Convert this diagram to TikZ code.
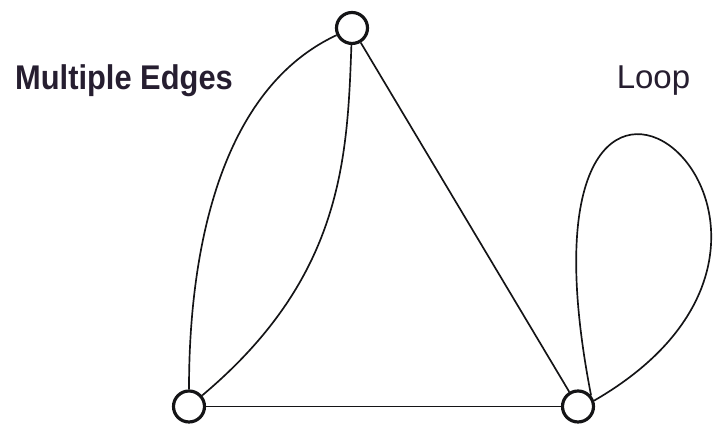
\documentclass[tikz,border=0pt]{standalone}
\usepackage{fontspec}
\setmainfont{Liberation Sans}
\usepackage{tikz}
\usetikzlibrary{arrows.meta,positioning}
\definecolor{ink}{RGB}{20,20,22}
\definecolor{slate}{RGB}{38,30,48}
\tikzset{
  vertex/.style={circle,draw=#1,line width=1.8pt,fill=white,inner sep=0pt,minimum size=6.2mm},
  vertex/.default=ink,
  link/.style={draw=#1,line width=0.95pt},
  link/.default=ink,
  tag/.style={text=slate,anchor=base,inner sep=0pt,font=\fontsize{18.8}{22}\selectfont},
}

\begin{document}
\begin{tikzpicture}
    \useasboundingbox (0,0) rectangle (14.28,8.5);
    \node[vertex] (top) at (7.04,7.94) {};
    \node[vertex] (left) at (3.78,0.37) {};
    \node[vertex] (right) at (11.56,0.37) {};
    % multiple edges between top and left
    \draw[link] (top) .. controls +(205:3.4) and +(90:1.9) .. (left);
    \draw[link] (top) .. controls +(268:2.65) and +(40:4) .. (left);
    \draw[link] (top) -- (right);
    \draw[link] (left) -- (right);
    % loop
    \draw[link] (right.40) .. controls +(101:10) and +(30:7.1) .. (right.20);
    \node[tag,font=\fontsize{19.5}{23}\selectfont\bfseries,xscale=0.9,transform shape] (multi) at (2.48,6.7) {Multiple Edges};
    \node[tag] (loop) at (13.07,6.72) {Loop};
\end{tikzpicture}
\end{document}
